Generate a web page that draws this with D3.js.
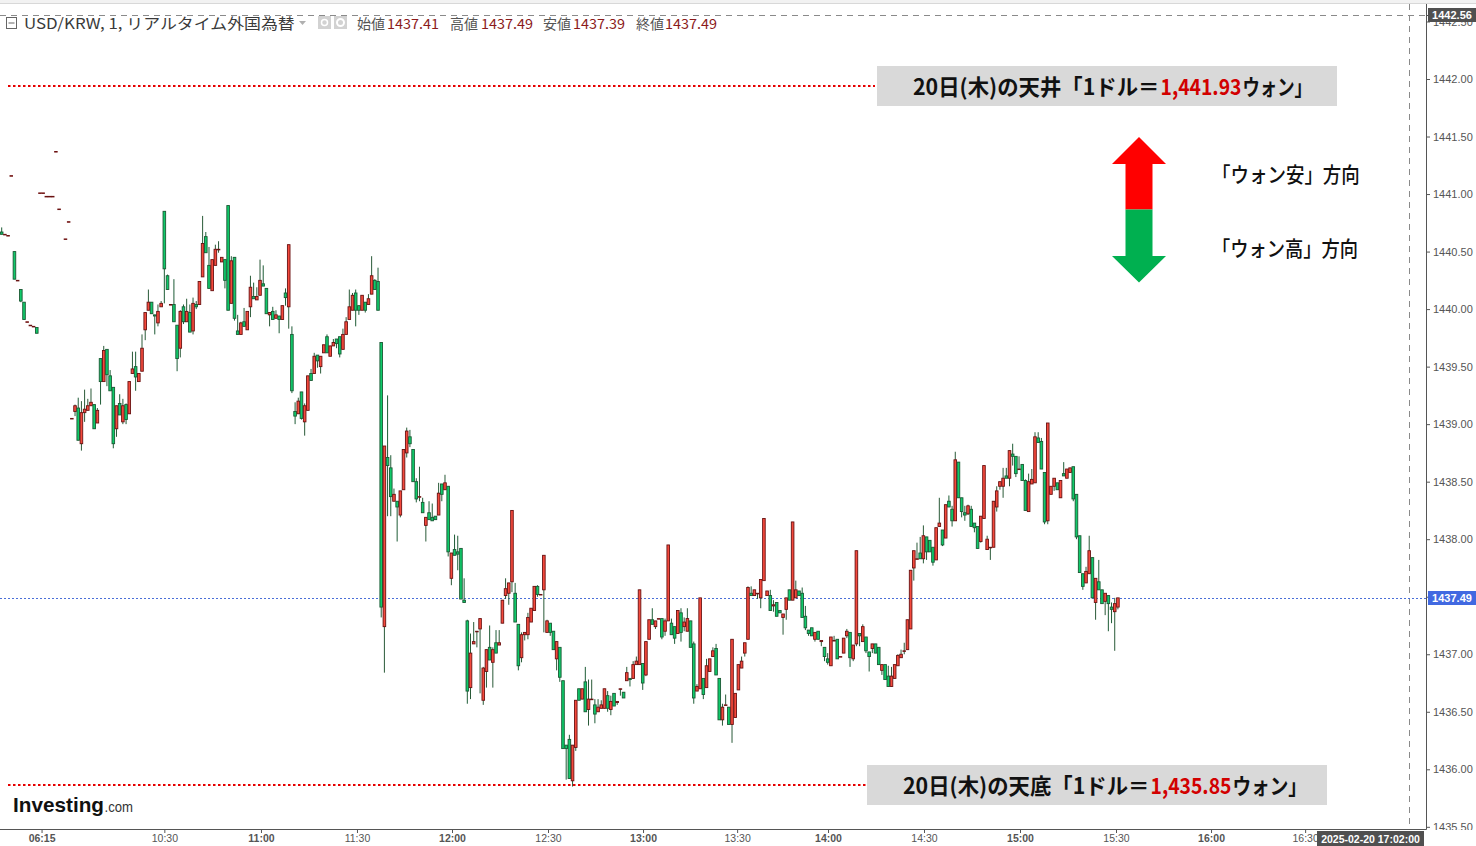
<!DOCTYPE html>
<html><head><meta charset="utf-8">
<script src="https://cdn.jsdelivr.net/npm/d3@7"></script>
<style>html,body{margin:0;padding:0;background:#fff;}svg{display:block;}</style>
</head><body>
<svg id="chart" width="1476" height="846"></svg>
<script>
// ---- DATA: 1-minute candles [open, high, low, close], index = bar slot ----
const preMarket = [null,
[1440.67,1440.71,1440.65,1440.65],[1440.65,1440.65,1440.65,1440.65],[1440.64,1440.64,1440.64,1440.64],
[1441.16,1441.16,1441.16,1441.16],[1440.50,1440.50,1440.26,1440.26],[1440.25,1440.25,1440.25,1440.25],
[1440.17,1440.17,1440.06,1440.07],[1440.06,1440.06,1439.91,1439.91],[1439.89,1439.89,1439.89,1439.89],
[1439.86,1439.86,1439.86,1439.86],[1439.85,1439.85,1439.85,1439.85],[1439.84,1439.84,1439.79,1439.79],
[1441.01,1441.01,1441.01,1441.01],[1441.01,1441.01,1441.01,1441.01],[1440.98,1440.98,1440.98,1440.98],
[1440.98,1440.98,1440.98,1440.98],[1440.98,1440.98,1440.98,1440.98],[1441.37,1441.37,1441.37,1441.37],
[1440.87,1440.87,1440.87,1440.87],null,[1440.61,1440.61,1440.61,1440.61],[1440.76,1440.76,1440.76,1440.76],
[1439.05,1439.05,1439.05,1439.05],[1439.11,1439.17,1439.07,1439.16],[1439.14,1439.23,1438.86,1438.86],
[1438.83,1439.20,1438.77,1439.10],[1439.10,1439.30,1439.02,1439.13],[1439.12,1439.22,1439.12,1439.16],
[1439.16,1439.31,1439.16,1439.19],[1439.17,1439.17,1438.96,1438.96],[1439.01,1439.14,1439.01,1439.12],
[1439.57,1439.57,1439.17,1439.37],[1439.37,1439.68,1439.37,1439.64],[1439.65,1439.65,1439.33,1439.43],
[1439.42,1439.47,1439.29,1439.29],[1439.32,1439.32,1438.79,1438.83],[1438.96,1439.16,1438.89,1439.16],
[1439.18,1439.26,1439.08,1439.08],[1439.02,1439.22,1439.00,1439.16],[1439.17,1439.18,1439.00,1439.04],
[1439.09,1439.37,1439.09,1439.37],[1439.44,1439.63,1439.44,1439.48],[1439.50,1439.63,1439.29,1439.41],
[1439.37,1439.44,1439.37,1439.44],[1439.46,1439.78,1439.46,1439.66],[1439.82,1439.97,1439.73,1439.97],
[1439.99,1440.17,1439.99,1440.06],[1440.06,1440.06,1439.96,1439.96],[1439.95,1439.95,1439.78,1439.94],
[1439.88,1440.04,1439.85,1439.98],[1440.02,1440.07,1440.02,1440.05]];
const h1030 = [
[1440.85,1440.85,1440.05,1440.35],[1440.29,1440.30,1440.17,1440.17],[1440.04,1440.04,1440.04,1440.04],
[1440.04,1440.26,1439.89,1439.89],[1439.86,1439.86,1439.46,1439.57],[1439.66,1439.99,1439.58,1439.98],
[1440.02,1440.04,1439.87,1439.89],[1439.89,1440.09,1439.89,1439.98],[1439.97,1440.04,1439.80,1439.80],
[1439.81,1440.10,1439.78,1440.05],[1440.04,1440.07,1440.00,1440.02],[1440.04,1440.24,1440.04,1440.24],
[1440.28,1440.81,1440.28,1440.57],[1440.63,1440.67,1440.49,1440.49],[1440.38,1440.54,1440.18,1440.18],
[1440.16,1440.43,1440.16,1440.43],[1440.38,1440.56,1440.38,1440.52],[1440.52,1440.59,1440.49,1440.52],
[1440.41,1440.45,1440.41,1440.45],[1440.43,1440.43,1440.18,1440.25],[1440.90,1440.90,1439.99,1439.99],
[1440.05,1440.46,1440.05,1440.42],[1440.45,1440.45,1439.90,1439.92],[1439.81,1439.95,1439.78,1439.78],
[1439.78,1439.89,1439.78,1439.88],[1439.89,1440.01,1439.85,1439.85],[1439.82,1439.98,1439.82,1439.98],
[1440.02,1440.29,1439.93,1440.19],[1440.11,1440.23,1440.09,1440.09],[1440.08,1440.19,1440.08,1440.11]];
const h1100 = [
[1440.12,1440.43,1440.12,1440.25],[1440.22,1440.38,1440.20,1440.20],[1440.18,1440.18,1439.96,1439.96],
[1439.95,1439.97,1439.85,1439.97],[1439.98,1440.02,1439.91,1439.91],[1439.92,1439.99,1439.92,1439.95],
[1439.94,1439.94,1439.79,1439.91],[1439.91,1440.03,1439.91,1440.03],[1440.14,1440.18,1440.03,1440.10],
[1440.02,1440.56,1439.83,1440.56],[1439.78,1439.85,1439.27,1439.29],[1439.11,1439.19,1439.00,1439.07],
[1439.09,1439.23,1439.09,1439.20],[1439.28,1439.28,1439.04,1439.05],[1439.02,1439.18,1438.90,1439.16],
[1439.12,1439.42,1439.12,1439.42],[1439.44,1439.48,1439.38,1439.38],[1439.44,1439.62,1439.44,1439.59],
[1439.60,1439.60,1439.49,1439.55],[1439.50,1439.59,1439.44,1439.59],[1439.62,1439.69,1439.62,1439.69],
[1439.76,1439.78,1439.62,1439.62],[1439.59,1439.68,1439.59,1439.68],[1439.68,1439.74,1439.68,1439.71],
[1439.74,1439.74,1439.66,1439.70],[1439.76,1439.76,1439.58,1439.61],[1439.65,1439.83,1439.65,1439.78],
[1439.78,1439.93,1439.78,1439.89],[1439.91,1440.17,1439.91,1440.02],[1439.99,1440.14,1439.99,1440.12]];
const h1130 = [
[1440.14,1440.17,1439.85,1439.99],[1440.03,1440.03,1439.95,1439.99],[1439.99,1440.12,1439.99,1440.12],
[1440.06,1440.06,1439.97,1439.99],[1440.04,1440.13,1440.04,1440.09],[1440.13,1440.46,1440.13,1440.29],
[1440.25,1440.26,1440.17,1440.17],[1440.24,1440.36,1439.99,1439.99],[1439.71,1439.71,1437.32,1437.41],
[1437.24,1438.81,1436.84,1438.81],[1438.71,1439.25,1438.20,1438.64],[1438.62,1438.73,1438.20,1438.37],
[1438.33,1438.44,1438.33,1438.39],[1438.33,1438.33,1437.98,1438.28],[1438.21,1438.42,1438.19,1438.42],
[1438.43,1438.78,1438.43,1438.78],[1438.75,1438.97,1438.71,1438.94],[1438.89,1438.95,1438.80,1438.83],
[1438.78,1438.78,1438.50,1438.50],[1438.50,1438.53,1438.32,1438.35],[1438.37,1438.63,1438.33,1438.37],
[1438.32,1438.36,1438.23,1438.23],[1438.12,1438.19,1437.98,1438.19],[1438.23,1438.33,1438.17,1438.17],
[1438.19,1438.31,1438.16,1438.16],[1438.20,1438.20,1438.17,1438.17],[1438.21,1438.49,1438.21,1438.40],
[1438.48,1438.48,1438.33,1438.39],[1438.43,1438.56,1438.43,1438.49],[1438.46,1438.46,1437.85,1437.89]];
const h1200 = [
[1437.66,1437.88,1437.60,1437.88],[1437.91,1438.04,1437.86,1437.86],[1437.89,1438.03,1437.73,1437.87],
[1437.92,1437.92,1437.48,1437.48],[1437.47,1437.66,1437.45,1437.45],[1437.29,1437.30,1436.57,1436.68],
[1436.71,1437.18,1436.61,1437.01],[1437.09,1437.28,1437.09,1437.11],[1437.20,1437.20,1437.06,1437.20],
[1437.22,1437.31,1436.66,1437.31],[1436.60,1436.89,1436.56,1436.88],[1436.85,1437.04,1436.71,1437.04],
[1437.06,1437.25,1436.95,1436.95],[1436.93,1437.06,1436.71,1437.04],[1437.10,1437.21,1437.01,1437.01],
[1437.08,1437.21,1437.08,1437.10],[1437.27,1437.47,1437.27,1437.47],[1437.51,1437.66,1437.48,1437.57],
[1437.53,1437.62,1437.43,1437.62],[1437.63,1438.25,1437.54,1438.25],[1437.53,1437.62,1437.28,1437.28],
[1437.26,1437.26,1436.86,1436.90],[1436.97,1437.19,1436.93,1437.17],[1437.17,1437.19,1437.12,1437.19],
[1437.17,1437.36,1437.13,1437.32],[1437.28,1437.40,1437.28,1437.40],[1437.38,1437.59,1437.38,1437.59],
[1437.59,1437.60,1437.50,1437.52],[1437.52,1437.52,1437.52,1437.52],[1437.56,1437.86,1437.19,1437.86]];
const h1230 = [
[1437.19,1437.30,1437.19,1437.29],[1437.27,1437.27,1437.16,1437.19],[1437.20,1437.20,1437.04,1437.04],
[1436.96,1437.11,1436.86,1437.11],[1437.06,1437.06,1436.76,1436.80],[1436.77,1436.77,1436.18,1436.18],
[1436.21,1436.21,1435.91,1436.18],[1436.26,1436.30,1435.92,1435.92],[1435.90,1436.21,1435.85,1436.21],
[1436.19,1436.60,1436.16,1436.60],[1436.70,1436.70,1436.60,1436.60],[1436.61,1436.70,1436.61,1436.70],
[1436.76,1436.89,1436.50,1436.50],[1436.52,1436.78,1436.38,1436.61],[1436.61,1436.78,1436.61,1436.61],
[1436.56,1436.61,1436.40,1436.48],[1436.50,1436.61,1436.50,1436.54],[1436.53,1436.60,1436.53,1436.56],
[1436.53,1436.70,1436.53,1436.70],[1436.64,1436.68,1436.50,1436.53],[1436.52,1436.64,1436.47,1436.59],
[1436.66,1436.66,1436.55,1436.55],[1436.58,1436.59,1436.56,1436.59],[1436.70,1436.70,1436.64,1436.70],
[1436.67,1436.67,1436.62,1436.62],[1436.77,1436.89,1436.77,1436.84],[1436.79,1436.79,1436.72,1436.78],
[1436.79,1436.94,1436.79,1436.91],[1436.91,1436.98,1436.91,1436.94],[1436.91,1437.56,1436.91,1437.56]];
const h1300 = [
[1436.92,1436.92,1436.69,1436.75],[1436.82,1437.11,1436.81,1437.11],[1437.13,1437.30,1437.13,1437.30],
[1437.30,1437.40,1437.26,1437.26],[1437.24,1437.29,1437.22,1437.29],[1437.31,1437.31,1437.31,1437.31],
[1437.31,1437.31,1437.13,1437.15],[1437.20,1437.31,1437.16,1437.29],[1437.29,1437.95,1437.29,1437.95],
[1437.27,1437.31,1437.17,1437.17],[1437.24,1437.24,1437.09,1437.14],[1437.18,1437.38,1437.18,1437.38],
[1437.36,1437.40,1437.11,1437.19],[1437.24,1437.32,1437.20,1437.28],[1437.20,1437.40,1437.20,1437.31],
[1437.29,1437.29,1437.06,1437.06],[1437.09,1437.11,1436.57,1436.62],[1436.68,1436.74,1436.68,1436.72],
[1436.70,1437.49,1436.70,1437.49],[1436.79,1436.79,1436.61,1436.65],[1436.71,1436.96,1436.71,1436.90],
[1436.85,1436.96,1436.85,1436.96],[1436.98,1437.06,1436.98,1437.03],[1437.05,1437.09,1436.82,1436.82],
[1436.79,1436.79,1436.43,1436.43],[1436.43,1436.57,1436.38,1436.54],[1436.56,1436.65,1436.56,1436.56],
[1436.54,1436.54,1436.39,1436.39],[1436.39,1437.13,1436.23,1437.13]];
const h1330 = [
[1436.45,1436.66,1436.45,1436.66],[1436.69,1436.91,1436.69,1436.91],[1436.88,1436.98,1436.88,1436.94],
[1437.01,1437.10,1436.98,1437.10],[1437.13,1437.59,1437.13,1437.58],[1437.53,1437.59,1437.51,1437.51],
[1437.51,1437.56,1437.51,1437.56],[1437.53,1437.53,1437.48,1437.53],[1437.49,1437.65,1437.40,1437.65],
[1437.64,1438.18,1437.64,1438.18],[1437.51,1437.55,1437.51,1437.55],[1437.51,1437.56,1437.38,1437.38],
[1437.42,1437.47,1437.37,1437.43],[1437.45,1437.45,1437.33,1437.33],[1437.38,1437.38,1437.36,1437.36],
[1437.32,1437.35,1437.17,1437.35],[1437.39,1437.49,1437.30,1437.49],[1437.56,1437.56,1437.47,1437.47],
[1437.47,1438.15,1437.47,1438.15],[1437.49,1437.64,1437.49,1437.56],[1437.55,1437.55,1437.51,1437.51],
[1437.53,1437.58,1437.32,1437.32],[1437.33,1437.42,1437.21,1437.23],[1437.21,1437.21,1437.16,1437.18],
[1437.23,1437.23,1437.16,1437.16],[1437.13,1437.19,1437.11,1437.19],[1437.20,1437.20,1437.13,1437.13],
[1437.11,1437.12,1437.07,1437.12],[1437.06,1437.06,1436.94,1436.98]];
const h1400 = [
[1436.96,1437.01,1436.91,1436.93],[1436.90,1437.15,1436.90,1437.15],[1437.12,1437.16,1437.12,1437.12],
[1437.13,1437.13,1436.96,1436.96],[1436.98,1436.98,1436.98,1436.98],[1437.01,1437.14,1437.01,1437.14],
[1437.16,1437.22,1437.14,1437.20],[1437.19,1437.19,1436.89,1436.97],[1436.96,1437.08,1436.94,1437.08],
[1437.09,1437.90,1437.07,1437.90],[1437.18,1437.18,1437.07,1437.16],[1437.11,1437.26,1437.11,1437.24],
[1437.15,1437.15,1437.01,1437.03],[1437.02,1437.02,1436.85,1436.98],[1437.05,1437.09,1437.01,1437.09],
[1437.09,1437.09,1437.01,1437.01],[1437.06,1437.06,1436.91,1436.91],[1436.86,1436.91,1436.82,1436.91],
[1436.91,1436.91,1436.78,1436.78],[1436.81,1436.90,1436.72,1436.72],[1436.72,1436.89,1436.72,1436.81],
[1436.79,1436.91,1436.79,1436.91],[1436.90,1437.00,1436.90,1436.99],[1436.97,1437.04,1436.97,1437.00],
[1437.03,1437.10,1437.00,1437.03],[1437.04,1437.30,1437.04,1437.30],[1437.22,1437.73,1437.22,1437.73],
[1437.75,1437.90,1437.64,1437.90],[1437.83,1437.97,1437.83,1437.83],[1437.88,1438.02,1437.83,1437.83]];
const h1430 = [
[1437.83,1438.12,1437.79,1438.03],[1438.02,1438.02,1437.82,1437.89],[1437.99,1437.99,1437.89,1437.89],
[1437.93,1437.93,1437.77,1437.80],[1437.82,1438.10,1437.82,1438.10],[1438.11,1438.36,1438.11,1438.14],
[1438.08,1438.08,1437.94,1437.95],[1438.01,1438.30,1438.01,1438.30],[1438.33,1438.38,1438.28,1438.28],
[1438.26,1438.29,1438.11,1438.16],[1438.16,1438.76,1438.16,1438.69],[1438.67,1438.67,1438.36,1438.36],
[1438.36,1438.36,1438.19,1438.24],[1438.23,1438.29,1438.16,1438.21],[1438.22,1438.30,1438.21,1438.29],
[1438.26,1438.29,1438.11,1438.11],[1438.14,1438.14,1438.06,1438.10],[1438.11,1438.11,1437.92,1437.92],
[1437.98,1438.20,1437.97,1438.20],[1438.18,1438.64,1438.18,1438.64],[1437.91,1438.03,1437.91,1438.00],
[1437.93,1437.93,1437.82,1437.93],[1437.93,1438.33,1437.93,1438.33],[1438.28,1438.46,1438.24,1438.42],
[1438.46,1438.50,1438.43,1438.50],[1438.46,1438.62,1438.36,1438.53],[1438.55,1438.62,1438.53,1438.53],
[1438.53,1438.77,1438.46,1438.77],[1438.74,1438.83,1438.64,1438.72],[1438.72,1438.72,1438.54,1438.57]];
const h1500 = [
[1438.61,1438.72,1438.61,1438.61],[1438.65,1438.65,1438.51,1438.51],[1438.51,1438.52,1438.25,1438.25],
[1438.24,1438.57,1438.24,1438.50],[1438.48,1438.61,1438.48,1438.52],[1438.49,1438.93,1438.49,1438.89],
[1438.88,1438.93,1438.84,1438.84],[1438.85,1438.88,1438.61,1438.61],[1438.58,1438.58,1438.13,1438.15],
[1438.16,1439.01,1438.13,1439.01],[1438.39,1438.46,1438.39,1438.46],[1438.46,1438.53,1438.42,1438.53],
[1438.49,1438.49,1438.43,1438.43],[1438.36,1438.51,1438.36,1438.51],[1438.57,1438.67,1438.55,1438.55],
[1438.53,1438.61,1438.53,1438.61],[1438.58,1438.62,1438.58,1438.62],[1438.63,1438.63,1438.33,1438.35],
[1438.39,1438.39,1438.00,1438.02],[1438.03,1438.03,1437.71,1437.71],[1437.70,1437.70,1437.56,1437.59],
[1437.62,1437.76,1437.62,1437.72],[1437.70,1438.03,1437.70,1437.90],[1437.84,1437.84,1437.49,1437.49],
[1437.45,1437.66,1437.30,1437.66],[1437.63,1437.82,1437.56,1437.56],[1437.56,1437.56,1437.44,1437.44],
[1437.46,1437.53,1437.34,1437.53],[1437.51,1437.51,1437.20,1437.44],[1437.41,1437.45,1437.27,1437.39]];
const h1530 = [[1437.37,1437.49,1437.03,1437.44],[1437.41,1437.49,1437.39,1437.49]];

const timeTickIndex  = [13.5, 52, 82.3, 112.4, 142.2, 172.3, 202.1, 231.6, 260.1, 290.2, 320.3, 350.4, 380.2, 409.7];
const timeTickLabels = ['06:15','10:30','11:00','11:30','12:00','12:30','13:00','13:30','14:00','14:30','15:00','15:30','16:00','16:30'];
const boldTimeLabels = ['06:15','11:00','12:00','13:00','14:00','15:00','16:00'];
const priceTicks = [1435.5,1436,1436.5,1437,1437.5,1438,1438.5,1439,1439.5,1440,1440.5,1441,1441.5,1442,1442.5];
const lastPrice = 1437.49, crossPrice = 1442.56;
const dayHigh = 1441.93, dayLow = 1435.85;
const headerLabels = ['始値','高値','安値','終値'];
const headerValues = ['1437.41','1437.49','1437.39','1437.49'];

// ---- CHART ----
const candles = [].concat(preMarket,h1030,h1100,h1130,h1200,h1230,h1300,h1330,h1400,h1430,h1500,h1530)
  .map((b,i)=> b ? {i, o:b[0], h:b[1], l:b[2], c:b[3]} : null).filter(Boolean);

const svg = d3.select('#chart');
const plotR = 1426, plotB = 829, plotT = 4;
const x = d3.scaleLinear().domain([0, 447.6]).range([-1.5, 1426]);
const y = d3.scaleLinear().domain([1436, 1442]).range([769.3, 79]);
const FONT = 'Liberation Sans, Arial, sans-serif';
const JP = '"Noto Sans CJK JP", "Noto Sans", sans-serif';

svg.append('rect').attr('width',1476).attr('height',846).attr('fill','#fff');
svg.append('rect').attr('x',0).attr('y',0).attr('width',1476).attr('height',3).attr('fill','#f2f2f2');
svg.append('line').attr('x1',0).attr('x2',1476).attr('y1',3.5).attr('y2',3.5).attr('stroke','#d8d8d8');

const defs = svg.append('defs');
defs.append('clipPath').attr('id','plotClip').append('rect').attr('x',0).attr('y',plotT).attr('width',plotR).attr('height',plotB-plotT);
defs.append('clipPath').attr('id','yClip').append('rect').attr('x',0).attr('y',plotT).attr('width',60).attr('height',plotB-plotT+1);

// crosshair lines
svg.append('line').attr('x1',0).attr('x2',plotR).attr('y1',Math.round(y(crossPrice))+0.5).attr('y2',Math.round(y(crossPrice))+0.5)
  .attr('stroke','#8a8a8a').attr('stroke-dasharray','6,5');
svg.append('line').attr('x1',1409.5).attr('x2',1409.5).attr('y1',plotT).attr('y2',plotB)
  .attr('stroke','#8a8a8a').attr('stroke-dasharray','6,5');

// current price line
svg.append('line').attr('x1',0).attr('x2',plotR).attr('y1',Math.round(y(lastPrice))+0.5).attr('y2',Math.round(y(lastPrice))+0.5)
  .attr('stroke','#4a6fd8').attr('stroke-dasharray','2,2');

// red dotted high / low lines
svg.append('line').attr('x1',8).attr('x2',875).attr('y1',86).attr('y2',86).attr('stroke','#e60000').attr('stroke-width',2).attr('stroke-dasharray','2.5,2.5');
svg.append('line').attr('x1',8).attr('x2',866).attr('y1',785).attr('y2',785).attr('stroke','#e60000').attr('stroke-width',2).attr('stroke-dasharray','2.5,2.5');

// candles
const cg = svg.append('g').attr('clip-path','url(#plotClip)');
const up = d => d.c >= d.o;
cg.selectAll('line.wick').data(candles).join('line').attr('class','wick')
  .attr('x1',d=>x(d.i)).attr('x2',d=>x(d.i))
  .attr('y1',d=>y(d.h)).attr('y2',d=>y(d.l))
  .attr('stroke',d=> up(d) ? '#2a5a38' : '#1e5c36').attr('stroke-width',1);
cg.selectAll('rect.body').data(candles).join('rect').attr('class','body')
  .attr('x',d=>x(d.i)-1.3).attr('width',2.6)
  .attr('y',d=>y(Math.max(d.o,d.c)))
  .attr('height',d=>Math.max(0.6, y(Math.min(d.o,d.c)) - y(Math.max(d.o,d.c))))
  .attr('fill',d=> up(d) ? '#f4493c' : '#0fca6a')
  .attr('stroke',d=> up(d) ? '#6a1212' : '#1b5934').attr('stroke-width',0.9);

// axes
const yAxis = d3.axisRight(y).tickValues(priceTicks).tickFormat(d3.format('.2f')).tickSize(4).tickPadding(3);
const gy = svg.append('g').attr('transform',`translate(${plotR},0)`).attr('clip-path','url(#yClip)').call(yAxis);
gy.select('.domain').remove();
gy.selectAll('line').attr('stroke','#555');
gy.selectAll('text').attr('font-family',FONT).attr('font-size',11).attr('fill','#555');

const xAxis = d3.axisBottom(x).tickValues(timeTickIndex).tickFormat((d,i)=>timeTickLabels[i]).tickSize(4).tickPadding(2);
const gx = svg.append('g').attr('transform',`translate(0,${plotB})`).call(xAxis);
gx.select('.domain').remove();
gx.selectAll('line').attr('stroke','#555');
gx.selectAll('text').attr('font-family',FONT).attr('font-size',10.5).attr('fill','#555')
  .attr('font-weight',(d,i)=> boldTimeLabels.includes(timeTickLabels[i]) ? 'bold' : 'normal');

svg.append('line').attr('x1',plotR+0.5).attr('x2',plotR+0.5).attr('y1',plotT).attr('y2',plotB+0.5).attr('stroke','#555');
svg.append('line').attr('x1',0).attr('x2',plotR+0.5).attr('y1',plotB+0.5).attr('y2',plotB+0.5).attr('stroke','#555');

// price labels on axis
function priceBox(v, fill){
  const yy = Math.round(y(v));
  svg.append('rect').attr('x',1428).attr('y',yy-7).attr('width',48).attr('height',14).attr('fill',fill);
  svg.append('text').attr('x',1452).attr('y',yy+4).attr('text-anchor','middle').attr('font-family',FONT)
    .attr('font-size',11).attr('font-weight','bold').attr('fill','#fff').text(d3.format('.2f')(v));
}
priceBox(crossPrice,'#505050');
priceBox(lastPrice,'#4169e1');
svg.append('line').attr('x1',plotR).attr('x2',1429).attr('y1',Math.round(y(crossPrice))+0.5).attr('y2',Math.round(y(crossPrice))+0.5).attr('stroke','#505050');

// time label box
svg.append('rect').attr('x',1317).attr('y',831).attr('width',107).attr('height',15).attr('fill','#505050');
svg.append('text').attr('x',1370.5).attr('y',843).attr('text-anchor','middle').attr('font-family',FONT)
  .attr('font-size',10.5).attr('font-weight','bold').attr('fill','#fff').text('2025-02-20 17:02:00');

// fit a text run horizontally into [x0,x1] by scaling (keeps its real box exact)
function fitText(parent, str, x0, x1, yb, attrs){
  const t = parent.append('text').attr('x',0).attr('y',0).text(str);
  Object.entries(attrs).forEach(([k,v])=>t.attr(k,v));
  const w = t.node().getComputedTextLength();
  t.attr('transform',`translate(${x0},${yb}) scale(${(x1-x0)/w},1)`);
  return t;
}

// header
const hd = svg.append('g');
hd.append('rect').attr('x',6.5).attr('y',17.5).attr('width',10).attr('height',11).attr('fill','none').attr('stroke','#666');
hd.append('line').attr('x1',8.5).attr('x2',14.5).attr('y1',23).attr('y2',23).attr('stroke','#666');
fitText(hd,'USD/KRW, 1, リアルタイム外国為替',24,295,28.5,{'font-family':JP,'font-size':15,'fill':'#3a3a3a'});
hd.append('path').attr('d','M299,21 L306,21 L302.5,25 Z').attr('fill','#b0b0b0');
[318,334].forEach((xx,k)=>{
  hd.append('rect').attr('x',xx).attr('y',16).attr('width',13).attr('height',13).attr('fill','#d2d2d2');
  hd.append('circle').attr('cx',xx+6.5).attr('cy',22.5).attr('r',k?3.5:3).attr('fill','none').attr('stroke','#fff').attr('stroke-width',k?2:1.5);
});
const hx = [[357,387],[450,481],[543,573],[636,665]];
headerLabels.forEach((lab,k)=>{
  fitText(hd,lab,hx[k][0],hx[k][0]+28,28.5,{'font-family':JP,'font-size':14,'fill':'#555'});
  fitText(hd,headerValues[k],hx[k][1],hx[k][1]+52,28.5,{'font-family':JP,'font-size':14,'fill':'#8b1a1a'});
});

// annotation boxes: three text runs fitted to their measured spans
function annot(bx, by, x0, x1, x2, x3, kind, val){
  svg.append('rect').attr('x',bx).attr('y',by).attr('width',460).attr('height',40).attr('fill','#d9d9d9');
  const base = {'font-family':JP,'font-size':22,'font-weight':'bold'};
  fitText(svg,`20日(木)の${kind}「1ドル＝`,x0,x1-0.5,by+29,{...base,fill:'#111'});
  fitText(svg,d3.format(',.2f')(val),x1+0.5,x2-0.5,by+29,{...base,fill:'#d20000'});
  fitText(svg,'ウォン」',x2+0.5,x3,by+29,{...base,fill:'#111'});
}
annot(877, 66, 913, 1160, 1242, 1312, '天井', dayHigh);
annot(867, 765, 903, 1150, 1232, 1307, '天底', dayLow);

// direction arrows
svg.append('path').attr('d','M1139,137 L1166,164 L1152.5,164 L1152.5,209.5 L1125.5,209.5 L1125.5,164 L1112,164 Z').attr('fill','#ff0000');
svg.append('path').attr('d','M1125.5,209.5 L1152.5,209.5 L1152.5,256 L1166,256 L1139,282.5 L1112,256 L1125.5,256 Z').attr('fill','#00b050');
fitText(svg,'「ウォン安」方向',1212,1360,182,{'font-family':JP,'font-size':21,'font-weight':500,'fill':'#111'});
fitText(svg,'「ウォン高」方向',1212,1358,256,{'font-family':JP,'font-size':21,'font-weight':500,'fill':'#111'});

// logo
fitText(svg,'Investing',13,104,812,{'font-family':FONT,'font-size':21,'font-weight':'bold','fill':'#111'});
fitText(svg,'.com',104.5,133,812,{'font-family':FONT,'font-size':15,'fill':'#333'});
</script>
</body></html>
